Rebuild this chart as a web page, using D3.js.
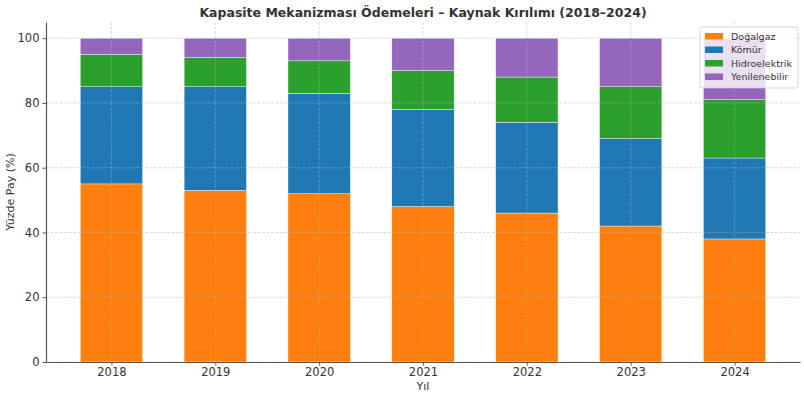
<!DOCTYPE html>
<html>
<head>
<meta charset="utf-8">
<script src="https://cdn.jsdelivr.net/npm/d3@7"></script>
<style>
  body { margin: 0; background: #fff; }
  text { font-family: "DejaVu Sans", sans-serif; fill: #333; }
</style>
</head>
<body>
<svg id="chart"></svg>
<script>
const years = ['2018', '2019', '2020', '2021', '2022', '2023', '2024'];
const sources = ['Doğalgaz', 'Kömür', 'Hidroelektrik', 'Yenilenebilir'];
const dogalgaz = [55, 53, 52, 48, 46, 42, 38];
const komur = [30, 32, 31, 30, 28, 27, 25];
const hidro = [10, 9, 10, 12, 14, 16, 18];
const yenilenebilir = [5, 6, 7, 10, 12, 15, 19];
const yTicks = [0, 20, 40, 60, 80, 100];
const colors = ['#ff7f0e', '#1f77b4', '#2ca02c', '#9467bd'];

const width = 804, height = 397;
const margin = { top: 22, right: 4, bottom: 35, left: 46 };

const svg = d3.select('#chart').attr('width', width).attr('height', height);

const rows = years.map((y, i) => ({
  year: y,
  'Doğalgaz': dogalgaz[i],
  'Kömür': komur[i],
  'Hidroelektrik': hidro[i],
  'Yenilenebilir': yenilenebilir[i]
}));
const series = d3.stack().keys(sources)(rows);

// linear x so the bar/margin geometry matches (bars 0.6 wide, 5% padding)
const x = d3.scaleLinear().domain([-0.63, 6.63]).range([margin.left, width - margin.right]);
const y = d3.scaleLinear().domain([0, 105]).range([height - margin.bottom, margin.top]);
const color = d3.scaleOrdinal(sources, colors);
const barW = x(0.6) - x(0);

// bars
svg.append('g')
  .selectAll('g')
  .data(series)
  .join('g')
  .attr('fill', d => color(d.key))
  .selectAll('rect')
  .data(d => d)
  .join('rect')
  .attr('x', (d, i) => x(i) - barW / 2)
  .attr('width', barW)
  .attr('y', d => y(d[1]))
  .attr('height', d => y(d[0]) - y(d[1]))
  .attr('stroke', '#fff')
  .attr('stroke-width', 0.4);

// grid on top of bars
const grid = svg.append('g').attr('stroke', '#b0b0b0').attr('stroke-dasharray', '3,1.5')
  .attr('stroke-opacity', 0.6).attr('stroke-width', 0.8);
grid.selectAll('.gy').data(yTicks).join('line')
  .attr('x1', margin.left).attr('x2', width - margin.right)
  .attr('y1', d => y(d)).attr('y2', d => y(d));
grid.selectAll('.gx').data(years).join('line')
  .attr('x1', (d, i) => x(i)).attr('x2', (d, i) => x(i))
  .attr('y1', margin.top).attr('y2', height - margin.bottom);

// axes
const xAxis = svg.append('g')
  .attr('transform', `translate(0,${height - margin.bottom})`)
  .call(d3.axisBottom(x).tickValues(d3.range(years.length)).tickFormat(i => years[i])
    .tickSize(3.5).tickPadding(2).tickSizeOuter(0));
const yAxis = svg.append('g')
  .attr('transform', `translate(${margin.left},0)`)
  .call(d3.axisLeft(y).tickValues(yTicks).tickSize(3.5).tickPadding(3).tickSizeOuter(0));

[xAxis, yAxis].forEach(a => {
  a.select('.domain').attr('stroke', '#555').attr('stroke-width', 1.2);
  a.selectAll('.tick line').attr('stroke', '#555');
  a.selectAll('.tick text').attr('font-size', 11.5).style('fill', '#333')
    .attr('font-family', '"DejaVu Sans", sans-serif');
});

// title and axis labels
svg.append('text')
  .attr('x', (margin.left + width - margin.right) / 2)
  .attr('y', 17)
  .attr('text-anchor', 'middle')
  .attr('font-size', 12.5)
  .attr('font-weight', 'bold')
  .text('Kapasite Mekanizması Ödemeleri – Kaynak Kırılımı (2018–2024)');

svg.append('text')
  .attr('x', (margin.left + width - margin.right) / 2)
  .attr('y', 390)
  .attr('text-anchor', 'middle')
  .attr('font-size', 11)
  .text('Yıl');

svg.append('text')
  .attr('transform', `translate(14,${(margin.top + height - margin.bottom) / 2}) rotate(-90)`)
  .attr('text-anchor', 'middle')
  .attr('font-size', 11)
  .text('Yüzde Pay (%)');

// legend
const lg = svg.append('g').attr('transform', 'translate(700,27)');
lg.append('rect')
  .attr('width', 98).attr('height', 61).attr('rx', 2)
  .attr('fill', '#fff').attr('fill-opacity', 0.8)
  .attr('stroke', '#ccc').attr('stroke-width', 0.8);
const items = lg.selectAll('.item').data(sources).join('g')
  .attr('transform', (d, i) => `translate(5,${6 + i * 13.5})`);
items.append('rect')
  .attr('width', 18).attr('height', 6.5)
  .attr('fill', d => color(d));
items.append('text')
  .attr('x', 26).attr('y', 3.5).attr('dy', '0.35em')
  .attr('font-size', 9.5)
  .text(d => d);
</script>
</body>
</html>
